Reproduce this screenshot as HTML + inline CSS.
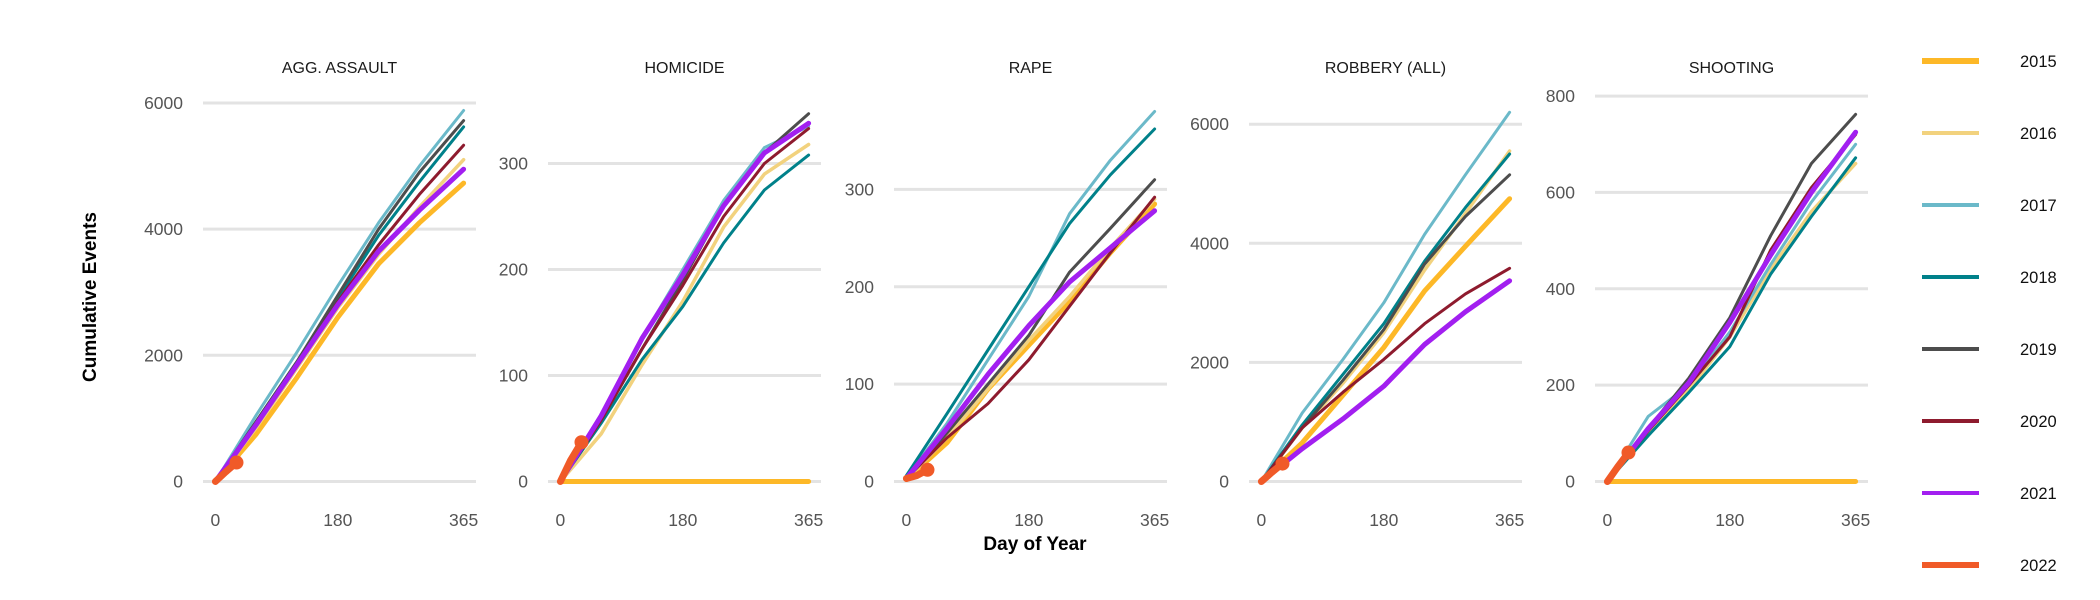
<!DOCTYPE html>
<html><head><meta charset="utf-8"><style>
html,body{margin:0;padding:0;background:#fff;}
svg{display:block;font-family:"Liberation Sans",sans-serif;}
</style></head><body>
<svg id="chart" width="2100" height="600" viewBox="0 0 2100 600">
<text x="91" y="297" transform="rotate(-90 91 297)" text-anchor="middle" dominant-baseline="middle" font-size="19" font-weight="bold" fill="#000">Cumulative Events</text>
<text x="1035" y="550" text-anchor="middle" font-size="19" font-weight="bold" fill="#000">Day of Year</text>
<g id="panels"></g>
<g id="legend"></g>
</svg>
<script>
const years = ["2015","2016","2017","2018","2019","2020","2021","2022"];
const colors = ["#FDB827","#F2D27E","#6BB9C9","#00818A","#4D4D4D","#8E1B2E","#A21FF0","#F05A28"];
const widths = [5,3.5,3,3,3,3,5,7];
const panelTitles = ["AGG. ASSAULT","HOMICIDE","RAPE","ROBBERY (ALL)","SHOOTING"];
const days = [0,60,120,180,240,300,365];
const days2022 = [0,15,31];
const yTicks = [[0,2000,4000,6000],[0,100,200,300],[0,100,200,300],[0,2000,4000,6000],[0,200,400,600,800]];
const xTicks = [0,180,365];
const yMax = [5880,350,381,6230,770];
const aggAssault = [
 [0,750,1650,2600,3450,4100,4730],
 [0,850,1800,2750,3600,4350,5100],
 [0,1050,2050,3100,4100,5000,5880],
 [0,950,1900,2900,3900,4750,5620],
 [0,950,1900,2950,4000,4900,5720],
 [0,900,1850,2850,3750,4550,5330],
 [0,900,1850,2800,3650,4300,4950],
 [0,150,300]];
const homicide = [
 [0,0,0,0,0,0,0],
 [0,45,110,170,240,290,318],
 [0,62,135,200,265,315,335],
 [0,55,115,165,225,275,308],
 [0,58,125,190,260,310,347],
 [0,58,125,185,250,300,333],
 [0,62,135,195,260,310,338],
 [0,20,37]];
const rape = [
 [2,40,95,140,185,235,285],
 [2,45,95,145,190,240,290],
 [4,60,125,190,275,330,380],
 [6,70,135,200,265,315,362],
 [3,50,100,150,215,260,310],
 [3,45,80,125,180,235,292],
 [3,55,110,160,205,240,278],
 [3,6,12]];
const robbery = [
 [0,650,1450,2250,3200,3950,4750],
 [0,900,1650,2500,3550,4500,5550],
 [0,1150,2050,3000,4150,5150,6200],
 [0,950,1800,2650,3700,4600,5500],
 [0,900,1700,2550,3650,4450,5150],
 [0,900,1500,2050,2650,3150,3580],
 [0,550,1050,1600,2300,2850,3370],
 [0,150,300]];
const shooting = [
 [0,0,0,0,0,0,0],
 [0,100,190,300,440,560,660],
 [0,135,200,310,450,580,700],
 [0,95,185,280,430,550,672],
 [0,110,215,340,510,660,762],
 [0,105,200,300,480,610,720],
 [0,110,205,330,470,600,725],
 [0,30,60]];
const panelData = [aggAssault,homicide,rape,robbery,shooting];
const panelLefts = [203,548,894,1249,1595];
const PW = 273, PT = 92, PB = 500;
const NS = "http://www.w3.org/2000/svg";
function mk(tag, attrs, parent){const e=document.createElementNS(NS,tag);for(const k in attrs)e.setAttribute(k,attrs[k]);parent.appendChild(e);return e;}
function xScale(p,d){return panelLefts[p]+(d+0.05*365)/(1.1*365)*PW;}
function yScale(p,v){const M=yMax[p];return PB-(v+0.05*M)/(1.1*M)*(PB-PT);}
const panels=document.getElementById("panels");
panelTitles.forEach((title,p)=>{
  const g=mk("g",{},panels);
  
  
  const t=mk("text",{x:panelLefts[p]+PW/2,y:73,"text-anchor":"middle","font-size":16,fill:"#1a1a1a"},g);
  t.textContent=title;
  
  
  yTicks[p].forEach(v=>{
    const y=yScale(p,v);
    const ln=mk("line",{x1:panelLefts[p],x2:panelLefts[p]+PW,y1:y,y2:y,stroke:"#e3e3e3","stroke-width":3},g);
    
    
    const lb=mk("text",{x:panelLefts[p]-20,y:y+6,"text-anchor":"end","font-size":17.5,fill:"#555"},g);
    lb.textContent=v;
    
    
  });
  xTicks.forEach(d=>{
    const lb=mk("text",{x:xScale(p,d),y:526,"text-anchor":"middle","font-size":17.5,fill:"#555"},g);
    lb.textContent=d;
    
    
  });
  const data=panelData[p];
  data.forEach((vals,i)=>{
    const ds=(i===7)?days2022:days;
    const pts=vals.map((v,j)=>xScale(p,ds[j]).toFixed(1)+","+yScale(p,v).toFixed(1)).join(" ");
    const pl=mk("polyline",{points:pts,fill:"none",stroke:colors[i],"stroke-width":widths[i],"stroke-linejoin":"round","stroke-linecap":"round"},g);
    
    
    if(i===7){
      const c=mk("circle",{cx:xScale(p,ds[ds.length-1]),cy:yScale(p,vals[vals.length-1]),r:7,fill:colors[i]},g);
      
      
    }
  });
});
const legend=document.getElementById("legend");
years.forEach((yr,i)=>{
  const y=61+72*i;
  const g=mk("g",{},legend);
  
  
  mk("line",{x1:1922,x2:1979,y1:y,y2:y,stroke:colors[i],"stroke-width":(i===0||i===7)?6:4},g);
  const t=mk("text",{x:2020,y:y+6,"font-size":16.5,fill:"#111"},g);
  t.textContent=yr;
});
</script>
</body></html>
